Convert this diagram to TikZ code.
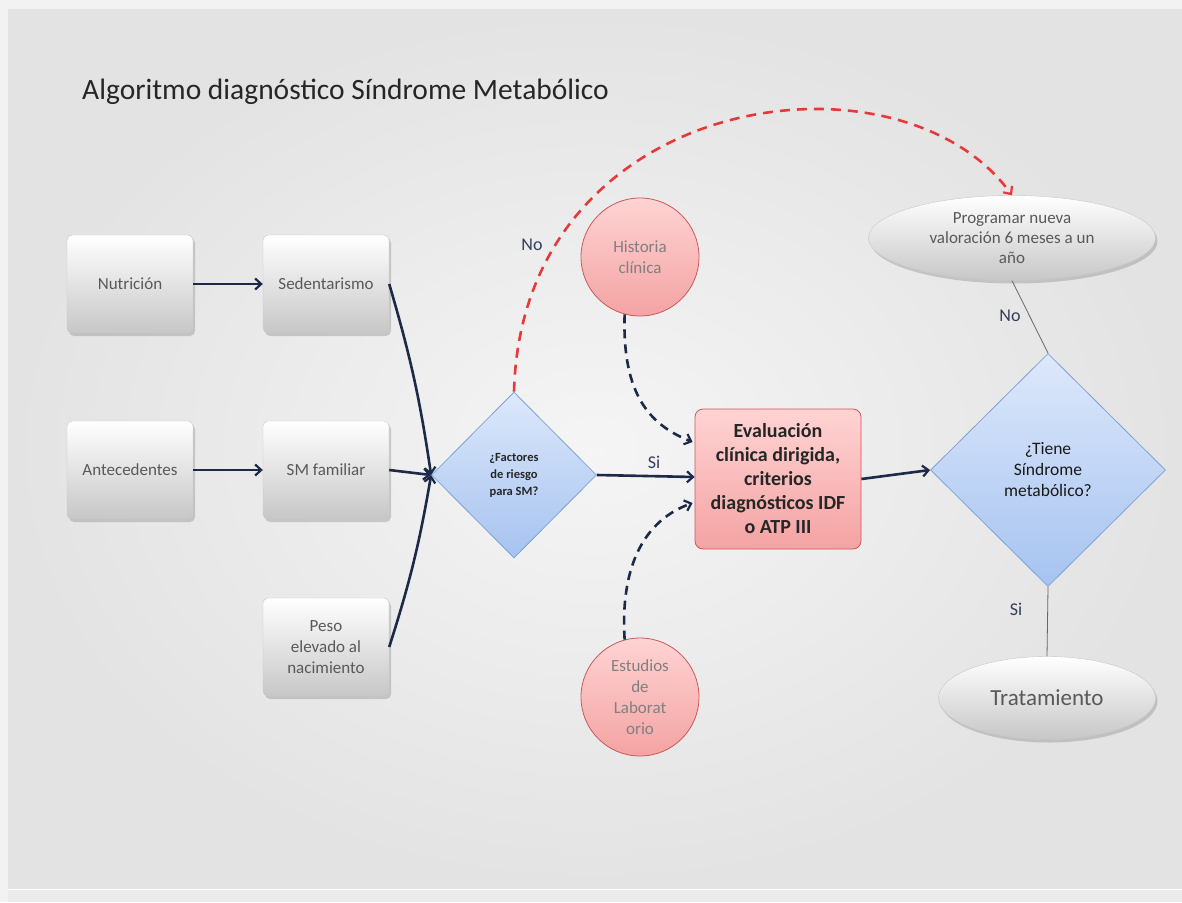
\documentclass[tikz,border=0pt]{standalone}
\usepackage{fontspec}
\setmainfont{Carlito}
\usetikzlibrary{arrows.meta,shapes.geometric,shadows,calc}
\definecolor{navy}{HTML}{1C2A48}
\definecolor{redline}{HTML}{E63A3A}
\definecolor{boxtext}{HTML}{595959}
\definecolor{bluetop}{HTML}{DDE8FB}
\definecolor{bluebot}{HTML}{A6C3F0}
\definecolor{blueedge}{HTML}{7FA3D6}
\definecolor{redtop}{HTML}{FFD3D3}
\definecolor{redbot}{HTML}{F4A3A3}
\definecolor{rededge}{HTML}{C9585A}
\tikzset{
  shad/.style={drop shadow={opacity=0.35,shadow xshift=2pt,shadow yshift=-3pt}},
  graybox/.style={rectangle, rounded corners=5pt, draw=black!22, top color=white, bottom color=black!22,
    minimum width=126pt, minimum height=98pt, inner sep=2pt, align=center, text=boxtext,
    font=\fontsize{17}{21}\selectfont, shad},
  dia/.style={diamond, draw=blueedge, line width=0.8pt, top color=bluetop, bottom color=bluebot,
    inner sep=0pt, align=center, text=black!85},
  redcirc/.style={circle, draw=rededge, line width=0.8pt, top color=redtop, bottom color=redbot,
    minimum size=118pt, inner sep=0pt, align=center, text=black!50, font=\fontsize{17}{21}\selectfont},
  grayell/.style={ellipse, draw=black!22, top color=white, bottom color=black!22, inner sep=0pt,
    align=center, text=boxtext, shad},
  arr/.style={navy, line width=2.6pt, -{Straight Barb[length=6pt,width=11pt,line width=2.2pt]}},
  darr/.style={navy, line width=2.6pt, dash pattern=on 9pt off 6pt, -{Straight Barb[length=6pt,width=11pt,line width=2.2pt]}},
  rarr/.style={redline, line width=2.6pt, dash pattern=on 10pt off 7pt, -{Straight Barb[length=6pt,width=11pt,line width=2.2pt]}},
  thin/.style={black!60, line width=0.8pt},
  lab/.style={text=navy!90, font=\fontsize{18}{20}\selectfont, inner sep=0pt}
}
\begin{document}
\begin{tikzpicture}[x=1pt,y=-1pt]
\useasboundingbox (0,0) rectangle (1182,902);
\fill[black!5] (0,0) rectangle (1182,902);
\shade[inner color=black!4, outer color=black!11] (8,9) rectangle (1182,888);
\fill[black!8] (8,890) rectangle (1182,902);
\draw[white, line width=1pt] (8,889.5) -- (1182,889.5);

\node[anchor=west, text=black!85, font=\fontsize{29.5}{32}\selectfont, inner sep=0pt] (title) at (82,92) {Algoritmo diagnóstico Síndrome Metabólico};

\node[graybox] (nut) at (130,284) {Nutrición};
\node[graybox] (sed) at (326,284) {Sedentarismo};
\node[graybox] (ant) at (130,470) {Antecedentes};
\node[graybox] (smf) at (326,470) {SM familiar};
\node[graybox] (peso) at (326,647) {Peso\\elevado al\\nacimiento};

\node[dia, minimum width=165pt, minimum height=166pt, font=\bfseries\fontsize{12.5}{17}\selectfont] (d1) at (514,475) {¿Factores\\de riesgo\\para SM?};

\node[rectangle, rounded corners=8pt, draw=rededge, line width=0.8pt, top color=redtop, bottom color=redbot,
  minimum width=166pt, minimum height=140pt, align=center, text=black!85, font=\bfseries\fontsize{20}{24}\selectfont] (ev) at (778,479)
  {Evaluación\\clínica dirigida,\\criterios\\diagnósticos IDF\\o ATP III};

\node[dia, minimum width=235pt, minimum height=233pt, font=\fontsize{17.5}{21}\selectfont, text=black!90] (d2) at (1048,470) {¿Tiene\\Síndrome\\metabólico?};

\node[redcirc] (hist) at (640,257) {Historia\\clínica};
\node[redcirc] (est) at (640,697) {Estudios\\de\\Laborat\\orio};

\node[grayell, minimum width=287pt, minimum height=85pt, font=\fontsize{17}{20}\selectfont] (prog) at (1012,238) {Programar nueva\\valoración 6 meses a un\\año};
\node[grayell, minimum width=217pt, minimum height=83pt, font=\fontsize{23}{26}\selectfont] (trat) at (1047,698) {Tratamiento};

\draw[arr] (nut.east) -- (sed.west);
\draw[arr] (ant.east) -- (smf.west);
\draw[arr] (sed.east) to[bend left=4] (d1.west);
\draw[arr] (smf.east) -- (d1.west);
\draw[arr] (peso.east) to[bend right=4] (d1.west);
\draw[arr] (d1.east) -- ($(ev.west)+(0,-2)$);
\draw[arr] (ev.east) -- (d2.west);
\draw[darr] (hist.255) .. controls (622,395) and (650,425) .. ($(ev.west)+(-2,-37)$);
\draw[darr] (est.105) .. controls (620,565) and (645,520) .. ($(ev.west)+(-2,24)$);
\draw[rarr] (d1.north) .. controls (522,90) and (900,40) .. (prog.north);
\draw[thin] (d2.north) -- (prog.south);
\draw[thin] (d2.south) -- (trat.north);

\node[lab] (lno1) at (532,245) {No};
\node[lab] (lsi1) at (654,462) {Si};
\node[lab] (lno2) at (1010,316) {No};
\node[lab] (lsi2) at (1016,609) {Si};
\end{tikzpicture}
\end{document}
